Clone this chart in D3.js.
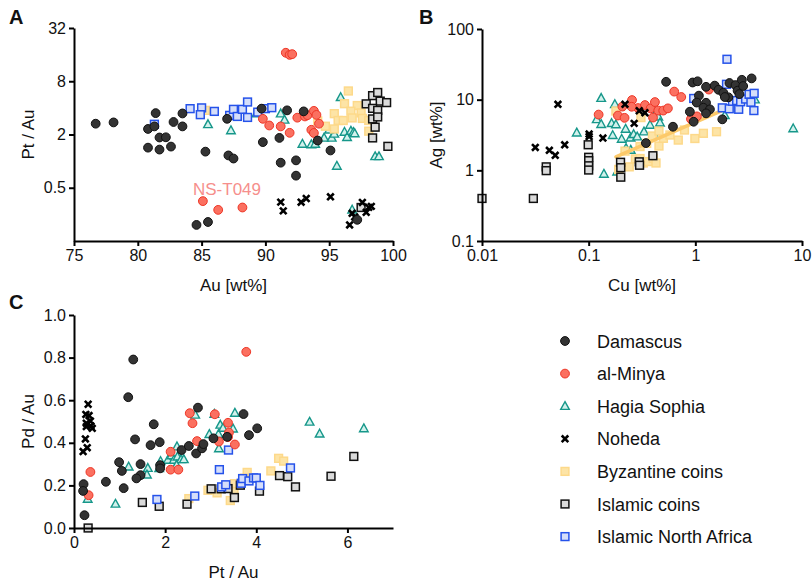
<!DOCTYPE html>
<html>
<head>
<meta charset="utf-8">
<script src="https://cdn.jsdelivr.net/npm/d3@7"></script>
<style>
  body { margin: 0; background: #fff; }
  svg text { font-family: "Liberation Sans", Arial, sans-serif; fill: #111; }
</style>
</head>
<body>
<svg id="chart" width="812" height="581"></svg>
<script>
// ---- data: [x, y] pairs ----
// Panel A: Au [wt%] vs Pt / Au
const damascusA = [[76.7,2.65],[78.1,2.74],[80.8,2.31],[81.3,2.47],[81.4,3.49],[81.7,1.85],[82.2,1.86],[80.8,1.42],[81.7,1.35],[82.6,1.46],[82.8,2.77],[83.5,2.47],[83.5,3.46],[85.3,1.28],[84.6,0.19],[85.5,0.205],[87.1,1.16],[87.5,1.07],[87.0,3.01],[89.7,3.92],[89.8,1.64],[91.1,1.83],[91.2,0.96],[91.7,3.75],[92.4,1.02],[92.4,0.685],[93.0,3.65],[94.1,1.71],[95.1,1.32],[97.2,0.217]];
const minyaA = [[91.6,16.8],[91.9,15.9],[92.1,16.2],[89.8,3.01],[90.3,2.53],[91.2,2.47],[91.9,2.09],[92.5,3.10],[93.1,3.20],[93.3,3.31],[93.8,3.70],[94.0,3.33],[93.6,2.26],[93.8,2.08],[94.2,2.65],[85.1,0.353],[86.3,0.281],[88.2,0.299]];
const hagiaA = [[85.5,2.60],[87.3,2.22],[89.3,3.44],[91.2,3.44],[91.5,2.92],[92.9,1.56],[93.6,1.54],[93.9,1.56],[94.6,1.83],[95.2,1.83],[95.4,2.03],[95.0,2.26],[95.6,0.88],[95.9,5.26],[96.2,2.13],[96.4,1.86],[96.7,2.19],[96.9,2.12],[97.0,2.05],[98.6,1.13],[98.9,1.13],[96.8,0.281],[98.4,2.85]];
const nohedaA = [[91.2,0.344],[91.4,0.274],[92.8,0.343],[93.2,0.378],[95.1,0.395],[96.6,0.19],[96.8,0.257],[97.0,0.234],[97.6,0.341],[97.9,0.264],[98.1,0.300],[98.3,0.308]];
const byzA = [[85.3,3.75],[96.5,6.21],[96.2,4.46],[97.2,4.25],[95.4,3.44],[95.7,2.88],[96.1,2.88],[96.7,3.67],[96.8,3.08],[97.5,3.51],[97.6,3.04],[94.1,2.85],[94.7,2.48],[95.4,2.31],[98.1,2.18],[98.1,2.88]];
const islCoinsA = [[98.4,5.50],[98.8,5.97],[97.9,4.44],[99.0,4.77],[99.5,4.59],[98.4,3.95],[98.8,3.75],[98.4,3.00],[98.8,3.16],[98.6,2.42],[98.4,1.83],[99.6,1.47],[97.5,0.299]];
const inaA = [[81.3,2.61],[84.1,3.92],[85.0,4.0],[84.9,3.35],[86.0,3.65],[87.2,3.29],[87.5,3.85],[87.8,3.20],[88.2,3.85],[88.6,4.66],[88.6,3.12],[89.4,3.58],[90.0,3.92],[90.5,4.02]];

// Panel B: Cu [wt%] vs Ag [wt%]
const damascusB = [[0.532,17.9],[0.944,17.5],[1.05,18.2],[1.26,15.2],[1.52,15.8],[1.65,13.8],[1.83,12.5],[2.04,10.8],[2.09,17.2],[2.38,16.1],[2.49,13.4],[2.73,19.1],[2.81,15.6],[2.59,12.0],[3.37,20.0],[1.08,11.4],[1.03,9.1],[1.26,9.04],[1.19,7.68],[1.37,7.29],[1.26,6.40],[0.889,6.75],[0.964,4.87],[1.79,5.27],[0.617,4.14],[0.344,2.43],[1.89,10.9]];
const minyaB = [[0.124,6.15],[0.188,5.96],[0.217,5.53],[0.207,7.98],[0.255,9.87],[0.290,7.61],[0.337,8.39],[0.381,7.53],[0.418,9.25],[0.449,7.01],[0.500,7.01],[0.553,7.53],[0.401,5.58],[0.634,13.0],[0.738,10.9],[0.910,5.32],[1.035,5.80],[1.34,13.9],[0.253,7.94]];
const hagiaB = [[0.0773,3.40],[0.131,10.5],[0.119,5.26],[0.131,4.48],[0.139,0.887],[0.168,3.13],[0.176,8.59],[0.164,4.62],[0.180,4.44],[0.222,3.84],[0.204,2.77],[0.247,2.89],[0.264,3.23],[0.330,3.52],[0.224,2.05],[0.248,1.94],[0.428,6.57],[0.449,5.73],[0.466,4.71],[0.466,3.16],[0.185,0.955],[1.89,6.0],[3.62,10.0],[8.27,3.90],[0.285,2.99],[0.376,4.37]];
const nohedaB = [[0.0515,8.59],[0.0316,2.11],[0.0428,1.92],[0.0486,1.63],[0.0596,2.30],[0.101,3.26],[0.101,3.01],[0.136,2.86],[0.219,8.59],[0.298,6.97],[0.337,6.53],[0.267,4.62]];
const byzB = [[0.180,6.90],[0.309,5.58],[0.191,1.03],[0.240,1.12],[0.274,1.45],[0.303,1.47],[0.325,1.27],[0.362,1.33],[0.403,1.48],[0.428,1.27],[0.303,2.17],[0.350,2.41],[0.396,3.06],[0.456,2.21],[0.502,2.84],[0.578,3.16],[0.692,2.68],[0.791,3.72],[0.99,2.82],[1.19,3.34],[1.58,3.52],[0.219,1.87],[0.456,3.60]];
const islCoinsB = [[0.01,0.40],[0.0303,0.40],[0.040,1.12],[0.040,0.99],[0.099,2.30],[0.1,1.53],[0.1,1.37],[0.1,1.16],[0.1,1.01],[0.199,1.30],[0.2,1.09],[0.2,0.80],[0.298,1.32],[0.3,1.18],[0.40,1.61]];
const inaB = [[1.98,37.3],[0.966,10.4],[1.96,16.5],[1.79,7.66],[2.08,7.43],[2.55,7.31],[2.23,9.49],[2.44,9.71],[2.66,9.34],[2.96,10.2],[3.19,11.9],[3.56,12.3],[3.32,9.19],[3.54,7.01]];
const byzFitB = [[0.18,1.55],[1.82,7.1]];

// Panel C: Pt / Au vs Pd / Au
const damascusC = [[1.30,0.791],[1.19,0.614],[1.75,0.487],[1.34,0.416],[1.88,0.403],[1.68,0.389],[1.46,0.300],[0.99,0.309],[1.05,0.268],[1.46,0.248],[1.37,0.233],[1.09,0.187],[0.70,0.217],[0.21,0.206],[0.20,0.174],[0.23,0.060],[1.89,0.295],[1.89,0.280],[2.36,0.366],[2.52,0.385],[2.72,0.565],[2.68,0.350],[2.81,0.374],[2.84,0.394],[3.06,0.421],[3.36,0.428],[3.72,0.535],[4.02,0.468],[3.84,0.436]];
const minyaC = [[0.36,0.263],[0.32,0.154],[2.12,0.358],[2.12,0.274],[2.29,0.274],[2.54,0.539],[2.60,0.492],[2.70,0.408],[3.09,0.534],[3.18,0.406],[3.38,0.494],[3.40,0.448],[3.38,0.427],[3.53,0.392],[3.78,0.827]];
const hagiaC = [[0.30,0.136],[0.91,0.113],[1.20,0.287],[1.62,0.281],[1.60,0.250],[1.90,0.313],[1.87,0.280],[2.06,0.319],[2.14,0.340],[2.19,0.319],[2.26,0.382],[2.27,0.334],[2.35,0.322],[2.41,0.322],[2.25,0.295],[2.66,0.531],[3.08,0.535],[2.97,0.440],[3.17,0.440],[3.21,0.484],[3.27,0.469],[3.18,0.373],[3.49,0.466],[3.53,0.540],[5.17,0.498],[5.39,0.442],[6.36,0.467]];
const nohedaC = [[0.31,0.581],[0.26,0.533],[0.33,0.528],[0.27,0.492],[0.36,0.502],[0.37,0.479],[0.27,0.476],[0.40,0.468],[0.25,0.418],[0.29,0.377],[0.20,0.359]];
const byzC = [[2.52,0.138],[2.94,0.177],[3.14,0.165],[3.43,0.129],[3.51,0.177],[3.52,0.208],[3.80,0.261],[4.32,0.268],[4.49,0.327],[4.60,0.314],[3.74,0.234]];
const islCoinsC = [[0.31,0.0],[1.50,0.120],[1.87,0.102],[2.48,0.112],[3.01,0.184],[3.23,0.184],[3.38,0.185],[3.52,0.143],[3.65,0.201],[4.07,0.173],[4.51,0.246],[4.69,0.241],[4.86,0.193],[5.64,0.243],[6.14,0.336]];
const inaC = [[1.82,0.134],[2.65,0.150],[3.19,0.274],[3.39,0.366],[3.24,0.193],[3.33,0.203],[3.67,0.210],[3.70,0.232],[3.84,0.221],[3.94,0.235],[4.00,0.235],[4.08,0.200],[4.75,0.282]];

// tick labels
const ticksAx = [75, 80, 85, 90, 95, 100];
const ticksAy = [0.5, 2, 8, 32];
const ticksBx = [0.01, 0.1, 1, 10];
const ticksBy = [0.1, 1, 10, 100];
const ticksCx = [0, 2, 4, 6];
const ticksCy = [0, 0.2, 0.4, 0.6, 0.8, 1.0];

// legend groups (draw order is separate, see below)
const groups = [
  { key: 'damascus', label: 'Damascus', shape: 'circle', fill: '#333333', stroke: '#111111' },
  { key: 'minya', label: 'al-Minya', shape: 'circle', fill: '#fb7060', stroke: '#ee3525' },
  { key: 'hagia', label: 'Hagia Sophia', shape: 'triangle', fill: '#d3f1ec', stroke: '#16978a' },
  { key: 'noheda', label: 'Noheda', shape: 'cross', fill: 'none', stroke: '#000000' },
  { key: 'byz', label: 'Byzantine coins', shape: 'square', fill: '#fde4a6', stroke: '#fdd98a' },
  { key: 'islCoins', label: 'Islamic coins', shape: 'square', fill: '#dadada', stroke: '#111111' },
  { key: 'ina', label: 'Islamic North Africa', shape: 'square', fill: '#d5defa', stroke: '#2552ea' }
];
const byKey = {};
groups.forEach(g => { byKey[g.key] = g; });
const drawOrder = ['hagia', 'byz', 'islCoins', 'ina', 'minya', 'noheda', 'damascus'];

const svg = d3.select('#chart');

// marker helper
const addMarker = (sel, g) => {
  if (g.shape === 'circle') {
    sel.append('circle').attr('r', 4.4)
      .attr('fill', g.fill).attr('stroke', g.stroke).attr('stroke-width', 1);
  } else if (g.shape === 'square') {
    sel.append('rect').attr('x', -3.9).attr('y', -3.9).attr('width', 7.8).attr('height', 7.8)
      .attr('fill', g.fill).attr('stroke', g.stroke).attr('stroke-width', 1.5);
  } else if (g.shape === 'triangle') {
    sel.append('path').attr('d', 'M0,-4.6L4.3,3.2L-4.3,3.2Z')
      .attr('fill', g.fill).attr('stroke', g.stroke).attr('stroke-width', 1.4);
  } else {
    sel.append('path').attr('d', 'M-3.3,-3.3L3.3,3.3M3.3,-3.3L-3.3,3.3')
      .attr('fill', 'none').attr('stroke', g.stroke).attr('stroke-width', 2.6);
  }
};

const drawPanel = cfg => {
  const panel = svg.append('g');
  const { x, y } = cfg;

  drawOrder.forEach(k => {
    const g = byKey[k];
    panel.selectAll(null)
      .data(cfg.series[k])
      .enter().append('g')
      .attr('transform', d => `translate(${x(d[0])},${y(d[1])})`)
      .each(function () { addMarker(d3.select(this), g); });

    // Byzantine fit line sits on the yellow squares
    if (k === 'byz' && cfg.fit) {
      panel.append('path')
        .datum(cfg.fit)
        .attr('d', d3.line().x(d => x(d[0])).y(d => y(d[1])))
        .attr('stroke', '#fcc96a').attr('stroke-width', 3.5)
        .attr('stroke-linecap', 'round').attr('fill', 'none');
    }
  });

  // axes
  const xAxis = panel.append('g')
    .attr('transform', `translate(0,${y.range()[0]})`)
    .call(d3.axisBottom(x).tickValues(cfg.xTicks).tickFormat(cfg.xFmt).tickSize(5).tickSizeOuter(0).tickPadding(4));
  const yAxis = panel.append('g')
    .attr('transform', `translate(${x.range()[0]},0)`)
    .call(d3.axisLeft(y).tickValues(cfg.yTicks).tickFormat(cfg.yFmt).tickSize(5).tickSizeOuter(0).tickPadding(3));
  [xAxis, yAxis].forEach(a => {
    a.select('.domain').attr('stroke', '#000').attr('stroke-width', 2);
    a.selectAll('.tick line').attr('stroke', '#000').attr('stroke-width', 2);
    a.selectAll('.tick text').attr('fill', '#111').style('font-size', '16px')
      .style('font-family', '"Liberation Sans", Arial, sans-serif');
  });

  const xr = x.range(), yr = y.range();
  panel.append('text')
    .attr('x', (xr[0] + xr[1]) / 2).attr('y', yr[0] + 50)
    .attr('text-anchor', 'middle').style('font-size', '17px')
    .text(cfg.xTitle);
  panel.append('text')
    .attr('transform', `translate(${xr[0] - 40},${(yr[0] + yr[1]) / 2}) rotate(-90)`)
    .attr('text-anchor', 'middle').style('font-size', '17px')
    .text(cfg.yTitle);
  panel.append('text')
    .attr('x', cfg.letter[1]).attr('y', cfg.letter[2])
    .style('font-size', '20px').style('font-weight', 'bold')
    .text(cfg.letter[0]);
  return panel;
};

// Panel A
const xA = d3.scaleLinear().domain([75, 100]).range([74, 393]);
const yA = d3.scaleLog().base(2).domain([0.125, 32]).range([241, 28]);
const panelA = drawPanel({
  x: xA, y: yA,
  series: { damascus: damascusA, minya: minyaA, hagia: hagiaA, noheda: nohedaA, byz: byzA, islCoins: islCoinsA, ina: inaA },
  xTicks: ticksAx, yTicks: ticksAy, xFmt: d3.format('d'), yFmt: d => String(d),
  xTitle: 'Au [wt%]', yTitle: 'Pt / Au', letter: ['A', 9, 24]
});
panelA.append('text')
  .attr('x', 193).attr('y', 195)
  .style('font-size', '17px').style('fill', '#f68f8c')
  .text('NS-T049');

// Panel B
const xB = d3.scaleLog().domain([0.01, 10]).range([482, 802]);
const yB = d3.scaleLog().domain([0.1, 100]).range([241, 29]);
drawPanel({
  x: xB, y: yB,
  series: { damascus: damascusB, minya: minyaB, hagia: hagiaB, noheda: nohedaB, byz: byzB, islCoins: islCoinsB, ina: inaB },
  fit: byzFitB,
  xTicks: ticksBx, yTicks: ticksBy, xFmt: d => String(d), yFmt: d => String(d),
  xTitle: 'Cu [wt%]', yTitle: 'Ag [wt%]', letter: ['B', 419, 24]
});

// Panel C
const xC = d3.scaleLinear().domain([0, 7]).range([74, 393]);
const yC = d3.scaleLinear().domain([0, 1]).range([528, 315]);
drawPanel({
  x: xC, y: yC,
  series: { damascus: damascusC, minya: minyaC, hagia: hagiaC, noheda: nohedaC, byz: byzC, islCoins: islCoinsC, ina: inaC },
  xTicks: ticksCx, yTicks: ticksCy, xFmt: d3.format('d'), yFmt: d3.format('.1f'),
  xTitle: 'Pt / Au', yTitle: 'Pd / Au', letter: ['C', 9, 309]
});

// legend
const legend = svg.append('g');
groups.forEach((g, i) => {
  const row = legend.append('g').attr('transform', `translate(565,${341 + i * 32.6})`);
  addMarker(row, g);
  row.append('text').attr('x', 32).attr('y', 6.5)
    .style('font-size', '18px').text(g.label);
});
</script>
</body>
</html>
